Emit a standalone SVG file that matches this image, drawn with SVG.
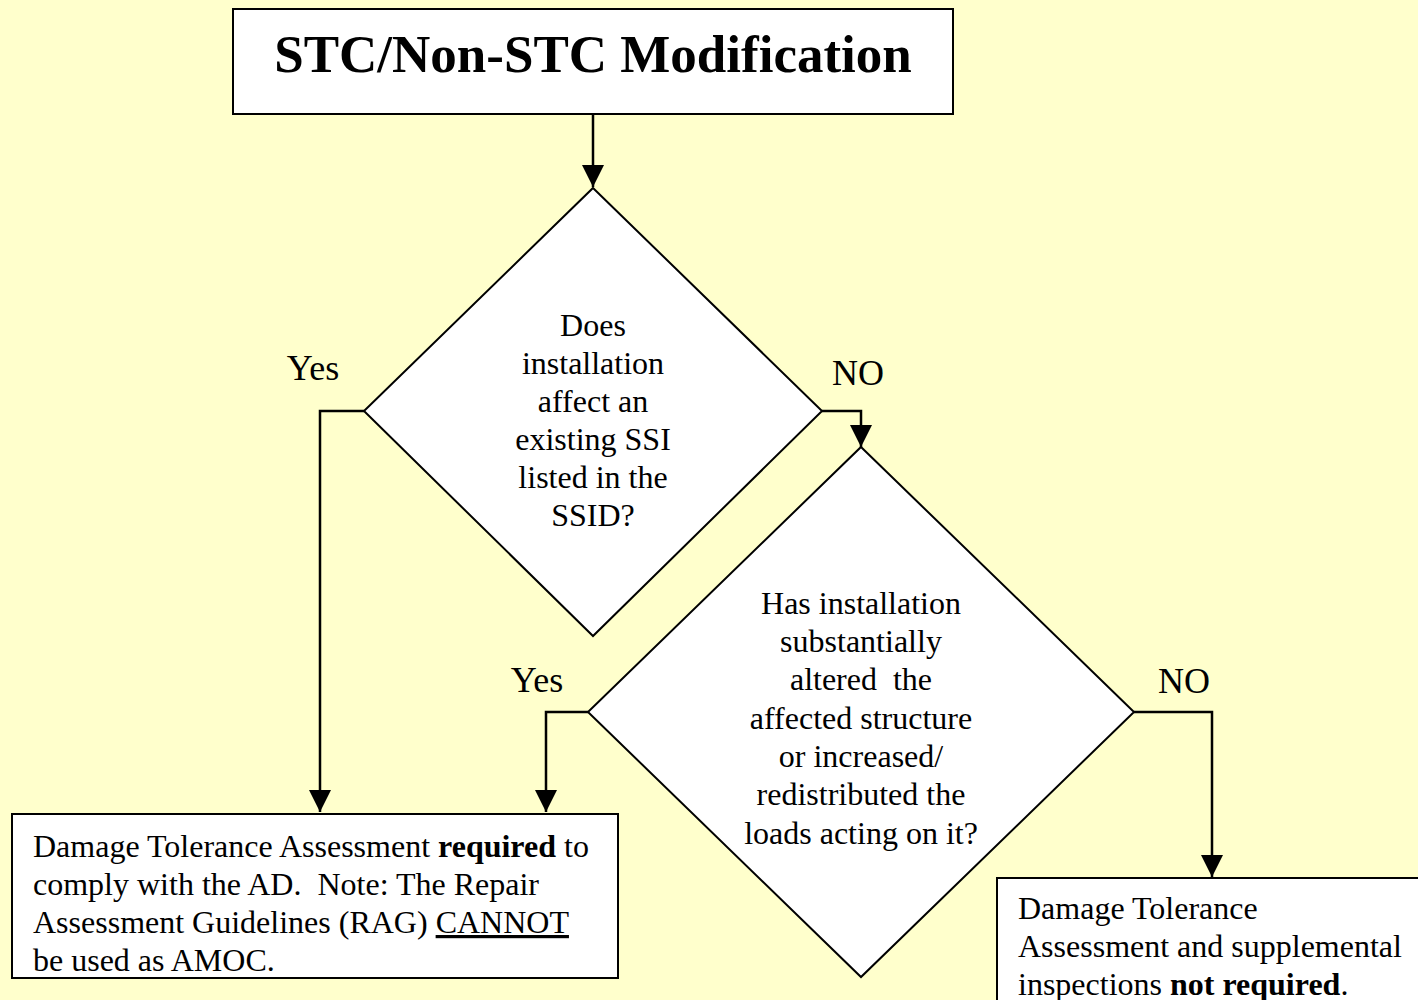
<svg xmlns="http://www.w3.org/2000/svg" width="1418" height="1000" viewBox="0 0 1418 1000">
<defs>
<style>
.bg{fill:#FFFFCC}
.box{fill:#FFFFFF;stroke:#000;stroke-width:2}
.con{fill:none;stroke:#000;stroke-width:2.5}
.t{font-family:"Liberation Serif","Times New Roman",serif;fill:#000}
.d{font-size:32px;text-anchor:middle}
.b{font-size:32px}
.lbl{font-size:36px;text-anchor:middle}
</style>
<marker id="ah" markerUnits="userSpaceOnUse" markerWidth="22" markerHeight="24" refX="22" refY="11" orient="auto" viewBox="0 0 22 22">
<path d="M0,0 L22,11 L0,22 Z" fill="#000"/>
</marker>
</defs>
<rect class="bg" x="0" y="0" width="1418" height="1000"/>
<g id="connectors">
<path class="con" d="M593,114 L593,187" marker-end="url(#ah)"/>
<path class="con" d="M364,411 L320,411 L320,812" marker-end="url(#ah)"/>
<path class="con" d="M822,411 L861,411 L861,447" marker-end="url(#ah)"/>
<path class="con" d="M588,712 L546,712 L546,812" marker-end="url(#ah)"/>
<path class="con" d="M1134,712 L1212,712 L1212,877" marker-end="url(#ah)"/>
</g>
<g id="start">
<rect class="box" x="233" y="9" width="720" height="105"/>
<text class="t" x="593" y="72" font-size="53" font-weight="bold" text-anchor="middle">STC/Non-STC Modification</text>
</g>
<g id="decision1">
<polygon class="box" points="593,188 822,411 593,636 364,411"/>
<text class="t d"><tspan x="593" y="336">Does</tspan><tspan x="593" y="374">installation</tspan><tspan x="593" y="412">affect an</tspan><tspan x="593" y="450">existing SSI</tspan><tspan x="593" y="488">listed in the</tspan><tspan x="593" y="526">SSID?</tspan></text>
</g>
<g id="decision2">
<polygon class="box" points="861,447 1134,712 861,977 588,712"/>
<text class="t d"><tspan x="861" y="614">Has installation</tspan><tspan x="861" y="652">substantially</tspan><tspan x="861" y="690" xml:space="preserve">altered  the</tspan><tspan x="861" y="729">affected structure</tspan><tspan x="861" y="767">or increased/</tspan><tspan x="861" y="805">redistributed the</tspan><tspan x="861" y="844">loads acting on it?</tspan></text>
</g>
<g id="required">
<rect class="box" x="12" y="814" width="606" height="164"/>
<text class="t b" xml:space="preserve"><tspan x="33" y="857">Damage Tolerance Assessment <tspan font-weight="bold">required</tspan> to</tspan><tspan x="33" y="895">comply with the AD.  Note: The Repair</tspan><tspan x="33" y="933">Assessment Guidelines (RAG) <tspan text-decoration="underline">CANNOT</tspan></tspan><tspan x="33" y="971">be used as AMOC.</tspan></text>
</g>
<g id="notrequired">
<rect class="box" x="997" y="878" width="430" height="140"/>
<text class="t b"><tspan x="1018" y="919">Damage Tolerance</tspan><tspan x="1018" y="957">Assessment and supplemental</tspan><tspan x="1018" y="995">inspections <tspan font-weight="bold">not required</tspan>.</tspan></text>
</g>
<g id="labels">
<text class="t lbl" x="313" y="380">Yes</text>
<text class="t lbl" x="858" y="385">NO</text>
<text class="t lbl" x="537" y="692">Yes</text>
<text class="t lbl" x="1184" y="693">NO</text>
</g>
</svg>
